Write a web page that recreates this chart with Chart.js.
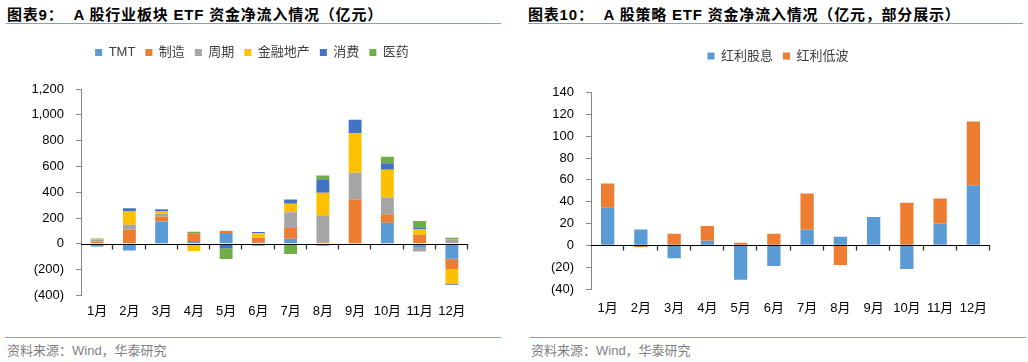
<!DOCTYPE html>
<html lang="zh">
<head>
<meta charset="utf-8" />
<title>ETF 资金净流入</title>
<script src="https://cdn.jsdelivr.net/npm/chart.js"></script>
<style>
    body { margin: 0; width: 1028px; height: 362px; background: #fff; position: relative; overflow: hidden;
           font-family: "Liberation Sans", "Noto Sans CJK SC", sans-serif; }
    .title { position: absolute; top: 3px; font-size: 15px; font-weight: bold; color: #000; white-space: pre; letter-spacing: 0.8px; }
    .rule { position: absolute; height: 1px; background: #6ea6da; }
    .src { position: absolute; top: 340px; font-size: 13px; color: #7f7f7f; white-space: pre; }
    canvas { position: absolute; top: 30px; }
</style>
</head>
<body>
<canvas id="sector" width="514" height="299" style="left:0"></canvas>
<canvas id="strategy" width="514" height="301" style="left:514px"></canvas>

<div class="title" style="left:7px">图表9：  A 股行业板块 ETF 资金净流入情况（亿元）</div>
<div class="rule" style="left:6px; top:23px; width:495px"></div>
<div class="title" style="left:528px">图表10：  A 股策略 ETF 资金净流入情况（亿元，部分展示）</div>
<div class="rule" style="left:528px; top:23px; width:495px"></div>

<div class="rule" style="left:5px; top:337px; width:496px"></div>
<div class="src" style="left:7px">资料来源：Wind，华泰研究</div>
<div class="rule" style="left:530px; top:337px; width:496px"></div>
<div class="src" style="left:531px">资料来源：Wind，华泰研究</div>

<script>
    // months on both charts
    var months = ['1月', '2月', '3月', '4月', '5月', '6月', '7月', '8月', '9月', '10月', '11月', '12月'];

    // chart 9: sector ETFs (亿元)
    var tmt     = [-20, -52, 172, 21, 83, 8, 39, -16, 0, 164, -31, -115];
    var zhizao  = [18, 109, 39, 60, 16, 38, 83, 10, 344, 65, 70, -81];
    var zhouqi  = [13, 39, 21, 0, 3, 3, 123, 211, 206, 130, -29, 34];
    var jinrong = [2, 102, 23, -55, 0, 32, 65, 175, 308, 216, 42, -112];
    var xiaofei = [0, 26, 10, 0, -34, 10, 34, 99, 104, 50, 10, -10];
    var yiyao   = [8, 0, 5, 12, -83, -15, -80, 34, 0, 50, 55, 13];

    // chart 10: strategy ETFs (亿元)
    var hongliGuxi = [34.4, 14.6, -11.9, 4.3, -31.6, -18.9, 14.3, 7.9, 25.9, -21.6, 20.0, 55.0];
    var hongliDibo = [22.2, -1.5, 10.7, 13.4, 2.4, 10.7, 33.2, -18.0, 0, 39.0, 22.8, 58.4];

    var sectorTicks = { min: -400, max: 1200, step: 200 };
    var strategyTicks = { min: -40, max: 140, step: 20 };

    Chart.defaults.font.family = '"Liberation Sans", "Noto Sans CJK SC", sans-serif';
    Chart.defaults.font.size = 13;
    Chart.defaults.color = '#000';

    // more room under the legend, and move it sideways
    var legendTweak = {
        id: 'legendTweak',
        beforeInit: function (chart, args, opts) {
            if (!chart.legend) return;
            var fit = chart.legend.fit;
            chart.legend.fit = function () {
                fit.call(this);
                this.height += opts.gap || 0;
            };
        },
        afterLayout: function (chart, args, opts) {
            if (!chart.legend) return;
            chart.legend.left += opts.shift || 0;
            chart.legend.right += opts.shift || 0;
        }
    };

    // black line at zero with small ticks between the months
    var zeroAxis = {
        id: 'zeroAxis',
        afterDraw: function (chart) {
            var ctx = chart.ctx, area = chart.chartArea;
            var y = chart.scales.y;
            var y0 = Math.round(y.getPixelForValue(0)) + 0.5;
            var n = chart.data.labels.length;
            var step = area.width / n;
            ctx.save();
            ctx.strokeStyle = '#000';
            ctx.lineWidth = 1;
            ctx.beginPath();
            ctx.moveTo(area.left, y0);
            ctx.lineTo(area.right, y0);
            ctx.stroke();
            ctx.strokeStyle = '#333';
            ctx.lineWidth = 1.3;
            ctx.beginPath();
            for (var i = 1; i <= n; i++) {
                var px = Math.round(area.left + i * step) - 0.5;
                ctx.moveTo(px, y0);
                ctx.lineTo(px, y0 + 5);
            }
            ctx.stroke();
            ctx.restore();
        }
    };

    function fmt(v) {
        var s = Math.abs(v).toLocaleString('en-US');
        return v < 0 ? '(' + s + ')' : s;
    }

    function bar(label, data, color) {
        return {
            label: label,
            data: data,
            backgroundColor: color,
            borderWidth: 0,
            categoryPercentage: 1,
            barPercentage: 0.4
        };
    }

    function makeChart(id, datasets, ticks, axisWidth, pad, labelPad, tweak) {
        return new Chart(document.getElementById(id), {
            type: 'bar',
            data: { labels: months, datasets: datasets },
            plugins: [legendTweak, zeroAxis],
            options: {
                responsive: false,
                animation: false,
                layout: { padding: pad },
                plugins: {
                    legend: {
                        position: 'top',
                        labels: { boxWidth: 7, boxHeight: 7, padding: 10, color: '#404040', font: { size: 13 } }
                    },
                    tooltip: { enabled: false },
                    legendTweak: tweak
                },
                scales: {
                    x: {
                        stacked: true,
                        grid: { display: false, drawTicks: false },
                        border: { display: false },
                        ticks: { padding: labelPad, color: '#000', maxRotation: 0, minRotation: 0, autoSkip: false }
                    },
                    y: {
                        stacked: true,
                        min: ticks.min,
                        max: ticks.max,
                        ticks: { stepSize: ticks.step, padding: 12, color: '#000', callback: fmt },
                        grid: { drawOnChartArea: false, drawTicks: true, tickLength: 5, color: '#868686' },
                        border: { display: true, color: '#868686', width: 1 },
                        afterFit: function (s) { s.width = axisWidth; }
                    }
                }
            }
        });
    }

    makeChart('sector', [
        bar('TMT', tmt, '#5B9BD5'),
        bar('制造', zhizao, '#ED7D31'),
        bar('周期', zhouqi, '#A5A5A5'),
        bar('金融地产', jinrong, '#FFC000'),
        bar('消费', xiaofei, '#4472C4'),
        bar('医药', yiyao, '#70AD47')
    ], sectorTicks, 81, { top: 6, bottom: 2, left: 0, right: 46 }, 8, { gap: 20, shift: 18 });

    makeChart('strategy', [
        bar('红利股息', hongliGuxi, '#5B9BD5'),
        bar('红利低波', hongliDibo, '#ED7D31')
    ], strategyTicks, 77, { top: 9.5, bottom: 2.4, left: 0, right: 38 }, 12, { gap: 20, shift: 26 });
</script>
</body>
</html>
